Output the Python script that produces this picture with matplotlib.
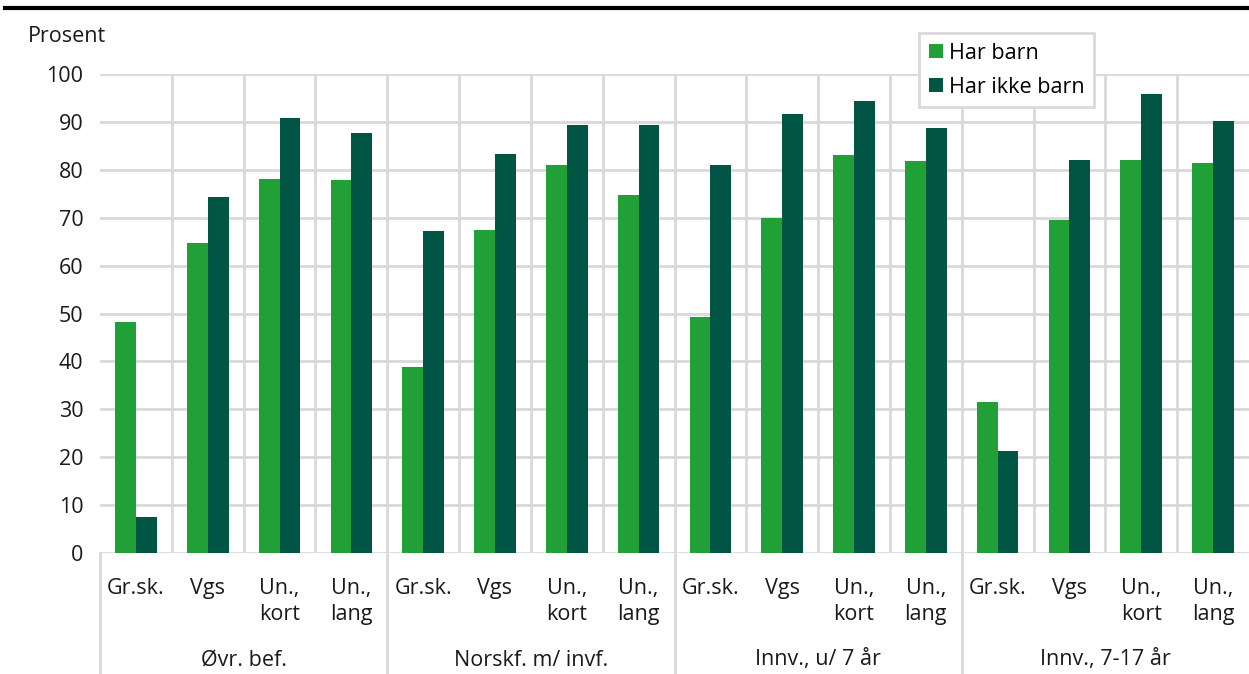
import matplotlib.pyplot as plt
import numpy as np
from matplotlib.lines import Line2D
from matplotlib.transforms import blended_transform_factory

plt.rcParams["font.family"] = ["Open Sans", "DejaVu Sans"]

groups = ["Øvr. bef.", "Norskf. m/ invf.", "Innv., u/ 7 år", "Innv., 7-17 år"]
levels = ["Gr.sk.", "Vgs", "Un.,\nkort", "Un.,\nlang"]
har_barn = [48.2, 64.8, 78.0, 77.8,
            38.8, 67.4, 81.0, 74.8,
            49.3, 70.0, 83.0, 81.9,
            31.6, 69.6, 82.1, 81.5]
har_ikke_barn = [7.5, 74.4, 90.8, 87.6,
                 67.3, 83.2, 89.3, 89.3,
                 80.9, 91.6, 94.4, 88.8,
                 21.2, 82.1, 95.8, 90.1]

LIGHT = "#21a038"
DARK = "#005544"
GRID = "#d9d9d9"
FS = 15.5

W, H = 1249, 674
fig = plt.figure(figsize=(W / 100, H / 100), dpi=100)
ax = fig.add_axes([100 / W, 1 - 553 / H, 1 - 100 / W, (553 - 74) / H])

n = len(har_barn)
x = np.arange(n)
bw = 0.29
ax.bar(x - bw / 2, har_barn, bw, color=LIGHT, label="Har barn", zorder=3)
ax.bar(x + bw / 2, har_ikke_barn, bw, color=DARK, label="Har ikke barn", zorder=3)

ax.set_xlim(-0.5, n - 0.5)
ax.set_ylim(0, 100)
ax.set_yticks(range(0, 101, 10))
for v in range(0, 101, 10):
    ax.axhline(v, color=GRID, lw=2, zorder=1)
for b in np.arange(0.5, n - 0.5, 1):
    ax.axvline(b, color=GRID, lw=2, zorder=1)

for s in ax.spines.values():
    s.set_visible(False)

ax.set_xticks(x)
ax.set_xticklabels(levels * len(groups), va="top", linespacing=1.3)
ax.tick_params(axis="x", length=0, pad=18, labelsize=FS, colors="#1a1a1a")
ax.tick_params(axis="y", length=0, pad=12, labelsize=FS, colors="#1a1a1a")

trans = blended_transform_factory(ax.transData, ax.transAxes)
for b in [-0.5, 3.5, 7.5, 11.5]:
    ax.add_line(Line2D([b, b], [0, -0.26], transform=trans, color=GRID,
                       lw=2, clip_on=False, zorder=1))
for i, g in enumerate(groups):
    ax.text(4 * i + 1.5, -(660 - 553) / (553 - 74), g, transform=trans,
            ha="center", va="center", fontsize=FS, color="#1a1a1a")

fig.text(28 / W, 1 - 37 / H, "Prosent", ha="left", va="center",
         fontsize=FS, color="#1a1a1a")
fig.add_artist(Line2D([5 / W, 1], [1 - 8 / H, 1 - 8 / H], color="black", lw=3))

leg = ax.legend(loc="upper left", bbox_to_anchor=(919 / W, 1 - 33 / H),
                bbox_transform=fig.transFigure, borderaxespad=0,
                handlelength=0.65, handleheight=0.65, handletextpad=0.3,
                fontsize=FS, fancybox=False, framealpha=1,
                borderpad=0.45, labelspacing=0.6)
leg.get_frame().set_edgecolor(GRID)
leg.get_frame().set_linewidth(2)
leg.set_zorder(5)

fig.savefig("out.png", dpi=100)
